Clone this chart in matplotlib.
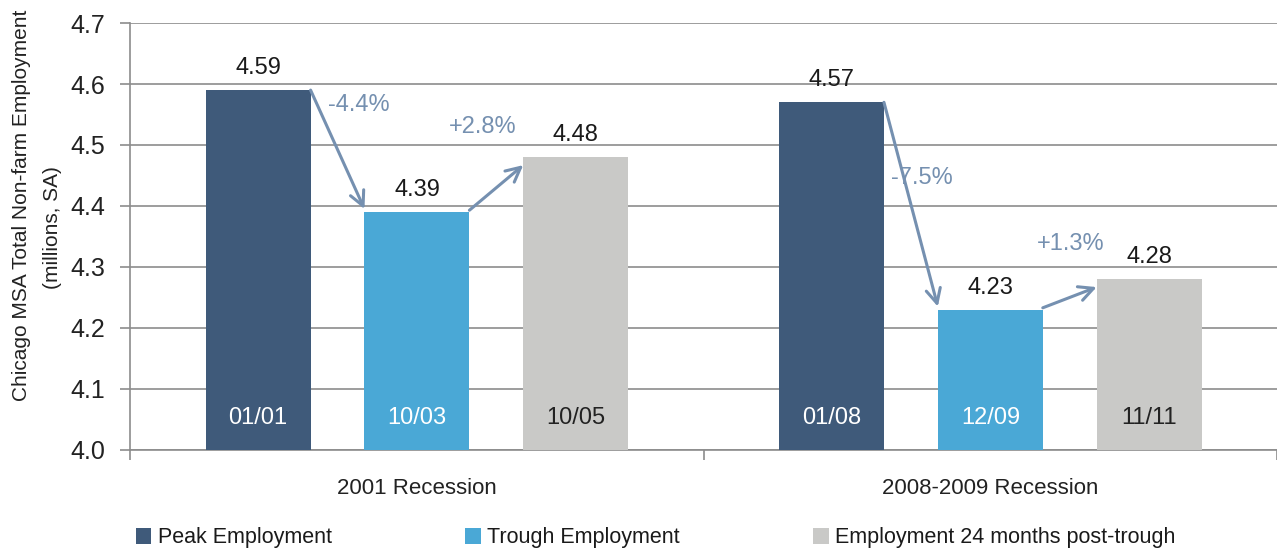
import matplotlib
matplotlib.use("Agg")
import matplotlib.pyplot as plt

plt.rcParams['font.family'] = ['Liberation Sans Narrow', 'Liberation Sans', 'DejaVu Sans']

# --- data ---
recessions = ["2001 Recession", "2008-2009 Recession"]
series_names = ["Peak Employment", "Trough Employment", "Employment 24 months post-trough"]
peak = [4.59, 4.57]
trough = [4.39, 4.23]
post = [4.48, 4.28]
peak_dates = ["01/01", "01/08"]
trough_dates = ["10/03", "12/09"]
post_dates = ["10/05", "11/11"]
drop_pct = ["-4.4%", "-7.5%"]
rise_pct = ["+2.8%", "+1.3%"]

colors = ["#3f5a7a", "#4aa8d6", "#c9c9c7"]
date_colors = ["white", "white", "#222222"]
arrow_col = "#7590b0"
grid_col = "#8c8c8c"

fig = plt.figure(figsize=(12.77, 5.48), dpi=100)
ax = fig.add_axes([0.102, 0.179, 0.898, 0.779])

offset = 0.277
width = 0.183
BASE = 4.0

all_vals = [peak, trough, post]
all_dates = [peak_dates, trough_dates, post_dates]
for k in range(3):
    xs = [i + (k - 1) * offset for i in range(len(recessions))]
    heights = [v - BASE for v in all_vals[k]]
    ax.bar(xs, heights, width=width, bottom=BASE, color=colors[k], zorder=3,
           label=series_names[k])
    for x, v, d in zip(xs, all_vals[k], all_dates[k]):
        ax.text(x, v + 0.018, f"{v:.2f}", ha="center", va="bottom",
                fontsize=17, color="#1a1a1a", zorder=4)
        ax.text(x, 4.052, d, ha="center", va="center", fontsize=17,
                color=date_colors[k], zorder=4)

# arrows between peak -> trough -> post
for i in range(len(recessions)):
    p_right = i - offset + width / 2
    t_left = i - width / 2
    t_right = i + width / 2
    q_left = i + offset - width / 2
    ax.annotate("", xy=(t_left, trough[i] + 0.005), xytext=(p_right, peak[i]),
                arrowprops=dict(arrowstyle="->", color=arrow_col, lw=2.2,
                                mutation_scale=26, shrinkA=0, shrinkB=0),
                zorder=5)
    ax.annotate("", xy=(q_left, post[i] - 0.013), xytext=(t_right, trough[i] + 0.003),
                arrowprops=dict(arrowstyle="->", color=arrow_col, lw=2.2,
                                mutation_scale=26, shrinkA=0, shrinkB=0),
                zorder=5)

ax.text(0 - offset + width / 2 + 0.03, 4.565, drop_pct[0], ha="left", va="center",
        fontsize=17, color=arrow_col)
ax.text(0 + 0.115, 4.53, rise_pct[0], ha="center", va="center",
        fontsize=17, color=arrow_col)
ax.text(1 - offset + width / 2 + 0.013, 4.446, drop_pct[1], ha="left", va="center",
        fontsize=17, color=arrow_col)
ax.text(1 + 0.14, 4.338, rise_pct[1], ha="center", va="center",
        fontsize=17, color=arrow_col)

# axes styling
ax.set_xlim(-0.5, 1.5)
ax.set_ylim(4.0, 4.7)
ax.set_yticks([4.0 + 0.1 * j for j in range(8)])
ax.set_yticklabels([f"{4.0 + 0.1 * j:.1f}" for j in range(8)], fontsize=18, color="#222222")
ax.yaxis.grid(True, color=grid_col, lw=1.2, zorder=0)
ax.set_xticks(range(len(recessions)))
ax.set_xticklabels(recessions, fontsize=16, color="#222222")
ax.set_xticks([-0.5, 0.5, 1.5], minor=True)
ax.tick_params(axis="x", which="major", length=0, pad=20)
ax.tick_params(axis="x", which="minor", length=7, color=grid_col, width=1.2)
ax.tick_params(axis="y", length=7, color=grid_col, width=1.2, pad=11)
for s in ["top", "right"]:
    ax.spines[s].set_visible(False)
for s in ["left", "bottom"]:
    ax.spines[s].set_color(grid_col)
    ax.spines[s].set_linewidth(1.2)

# y-axis title, two lines
fig.text(22 / 1277, 1 - 205 / 548, "Chicago MSA Total Non-farm Employment",
         rotation=90, ha="center", va="center", fontsize=15, color="#222222")
fig.text(52 / 1277, 1 - 228 / 548, "(millions, SA)",
         rotation=90, ha="center", va="center", fontsize=15, color="#222222")

fig.legend(loc="center left", bbox_to_anchor=(127 / 1277, 1 - 538 / 548), ncol=3,
           frameon=False, borderaxespad=0, fontsize=15.5, handlelength=0.72,
           handleheight=0.72, handletextpad=0.3, columnspacing=6.2,
           labelcolor="#1a1a1a")

fig.savefig("out.png", dpi=100)
